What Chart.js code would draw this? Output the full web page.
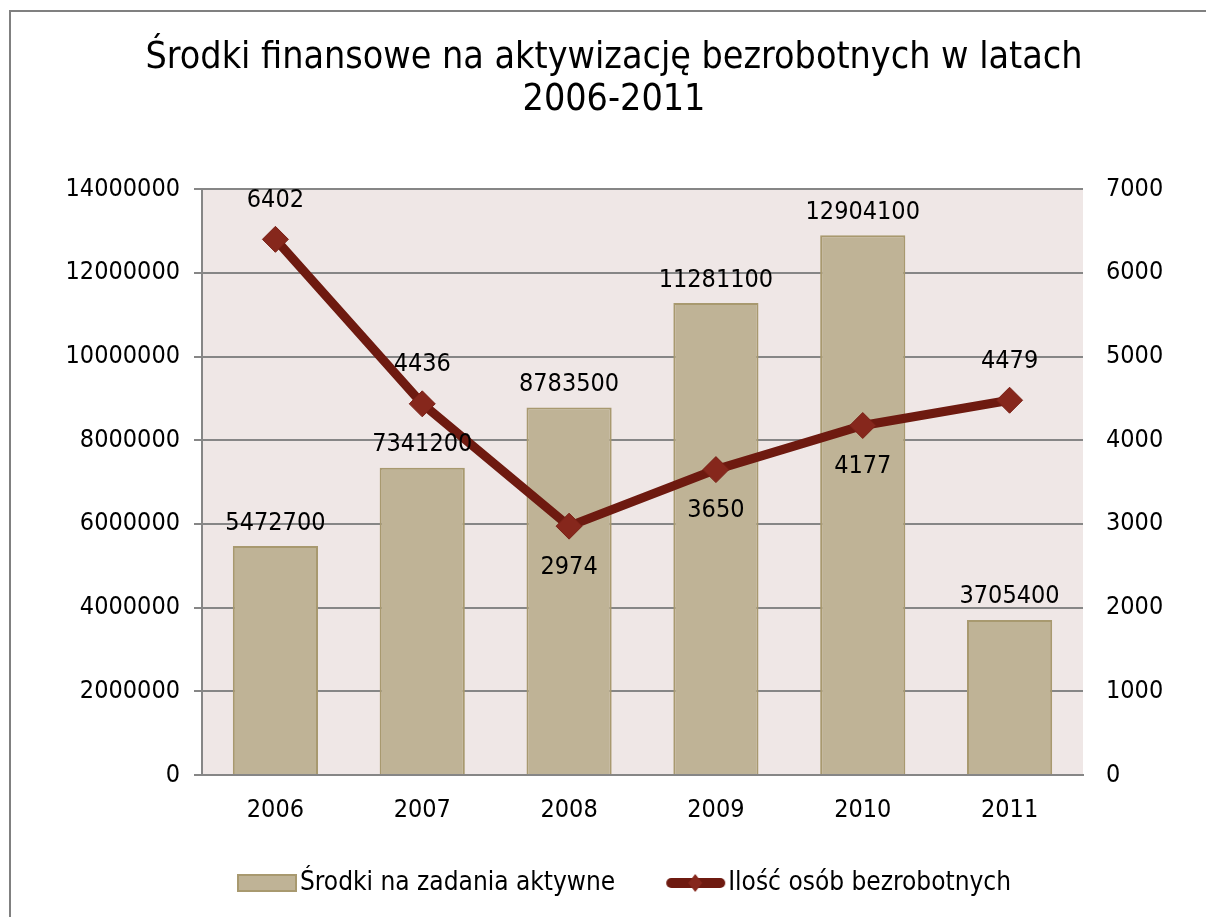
<!DOCTYPE html>
<html>
<head>
<meta charset="utf-8">
<script src="https://cdn.jsdelivr.net/npm/chart.js@4/dist/chart.umd.min.js"></script>
<style>
  html, body { margin: 0; padding: 0; background: #fff; }
  #wrap { width: 1206px; height: 917px; position: relative; }
</style>
</head>
<body>
<div id="wrap"><canvas id="chart"></canvas></div>
<script>
// dane
var years = ["2006", "2007", "2008", "2009", "2010", "2011"];
var srodki = [5472700, 7341200, 8783500, 11281100, 12904100, 3705400];
var bezrobotni = [6402, 4436, 2974, 3650, 4177, 4479];
var leftTicks = [0, 2000000, 4000000, 6000000, 8000000, 10000000, 12000000, 14000000];
var rightTicks = [0, 1000, 2000, 3000, 4000, 5000, 6000, 7000];

var labelSide = ["above", "above", "below", "below", "below", "above"];
var FONT = "'DejaVu Sans Condensed', 'DejaVu Sans', sans-serif";
var GRID = "#868686";

// legend swatch: transparent on the left, mark on the right 62px
function swatch(kind) {
  var c = document.createElement("canvas");
  c.width = 92; c.height = 22;
  var g = c.getContext("2d");
  var o = 30;
  if (kind == "bar") {
    g.fillStyle = "#BFB396";
    g.fillRect(o + 2, 3, 58, 16);
    g.strokeStyle = "#A8996F";
    g.lineWidth = 2;
    g.strokeRect(o + 2, 3, 58, 16);
  } else {
    g.strokeStyle = "#6E1A10";
    g.lineWidth = 10;
    g.lineCap = "round";
    g.beginPath(); g.moveTo(o + 7, 11); g.lineTo(o + 56, 11); g.stroke();
    g.fillStyle = "#86271C";
    g.beginPath(); g.moveTo(o + 31, 2); g.lineTo(o + 38, 11); g.lineTo(o + 31, 20); g.lineTo(o + 24, 11); g.closePath(); g.fill();
  }
  return c;
}

var frame = {
  id: "frame",
  beforeDraw: function(chart) {
    var ctx = chart.ctx, a = chart.chartArea;
    ctx.save();
    ctx.fillStyle = "#fff";
    ctx.fillRect(0, 0, chart.width, chart.height);
    ctx.strokeStyle = "#808080";
    ctx.lineWidth = 2;
    ctx.beginPath();
    ctx.moveTo(10, chart.height); ctx.lineTo(10, 11); ctx.lineTo(chart.width, 11);
    ctx.stroke();
    ctx.fillStyle = "#EFE7E6";
    ctx.fillRect(a.left, a.top, a.right - a.left, a.bottom - a.top);
    ctx.restore();
  }
};

var valueLabels = {
  id: "valueLabels",
  afterDatasetsDraw: function(chart) {
    var ctx = chart.ctx;
    ctx.save();
    ctx.font = "25px " + FONT;
    ctx.fillStyle = "#000";
    ctx.textAlign = "center";
    ctx.textBaseline = "middle";
    chart.getDatasetMeta(0).data.forEach(function(el, i) {
      ctx.fillText(String(srodki[i]), el.x, el.y - 23);
    });
    chart.getDatasetMeta(1).data.forEach(function(el, i) {
      var dy = labelSide[i] == "above" ? -39 : 41;
      ctx.fillText(String(bezrobotni[i]), el.x, el.y + dy);
    });
    ctx.restore();
  }
};

new Chart(document.getElementById("chart"), {
  type: "bar",
  data: {
    labels: years,
    datasets: [
      {
        type: "bar",
        label: "Środki na zadania aktywne",
        data: srodki,
        yAxisID: "y",
        order: 1,
        backgroundColor: "#BFB396",
        borderColor: "#A8996F",
        borderWidth: 2,
        categoryPercentage: 1,
        barPercentage: 0.58
      },
      {
        type: "line",
        label: "Ilość osób bezrobotnych",
        data: bezrobotni,
        yAxisID: "y1",
        order: 0,
        borderColor: "#6E1A10",
        borderWidth: 9,
        pointStyle: "rectRot",
        pointRadius: 13,
        pointHoverRadius: 13,
        pointBackgroundColor: "#86271C",
        pointBorderColor: "#7A2016",
        pointBorderWidth: 1,
        tension: 0
      }
    ]
  },
  options: {
    responsive: true,
    maintainAspectRatio: false,
    animation: false,
    layout: { padding: { left: 22, top: 10, right: 0, bottom: 11 } },
    plugins: {
      title: {
        display: true,
        text: ["Środki finansowe na aktywizację bezrobotnych w latach", "2006-2011"],
        color: "#000",
        font: { family: FONT, size: 37.3, weight: "normal", lineHeight: 1.13 },
        padding: { top: 27, bottom: 68 }
      },
      legend: {
        position: "bottom",
        labels: {
          color: "#000",
          font: { family: FONT, size: 26 },
          usePointStyle: true,
          pointStyleWidth: 70,
          padding: 30,
          generateLabels: function() {
            return [
              { text: "Środki na zadania aktywne", pointStyle: swatch("bar"), datasetIndex: 0, fillStyle: "#BFB396", strokeStyle: "#A8996F", lineWidth: 0 },
              { text: "Ilość osób bezrobotnych", pointStyle: swatch("line"), datasetIndex: 1, fillStyle: "#86271C", strokeStyle: "#6E1A10", lineWidth: 0 }
            ];
          }
        }
      },
      tooltip: { enabled: false }
    },
    scales: {
      x: {
        grid: { display: false },
        border: { display: true, color: GRID, width: 2 },
        ticks: { color: "#000", font: { family: FONT, size: 25 }, padding: 12 },
        afterFit: function(s) { s.height = 65; }
      },
      y: {
        position: "left",
        min: 0,
        max: 14000000,
        afterBuildTicks: function(s) { s.ticks = leftTicks.map(function(v) { return { value: v }; }); },
        grid: { color: GRID, lineWidth: 2, tickLength: 8 },
        border: { display: true, color: GRID, width: 2 },
        ticks: { color: "#000", font: { family: FONT, size: 25 }, padding: 14, callback: function(v) { return String(v); } },
        afterFit: function(s) { s.width = 180; }
      },
      y1: {
        position: "right",
        min: 0,
        max: 7000,
        afterBuildTicks: function(s) { s.ticks = rightTicks.map(function(v) { return { value: v }; }); },
        grid: { display: true, drawOnChartArea: false, drawTicks: false },
        border: { display: false },
        ticks: { color: "#000", font: { family: FONT, size: 25 }, padding: 23, callback: function(v) { return String(v); } },
        afterFit: function(s) { s.width = 123; }
      }
    }
  },
  plugins: [frame, valueLabels]
});
</script>
</body>
</html>
